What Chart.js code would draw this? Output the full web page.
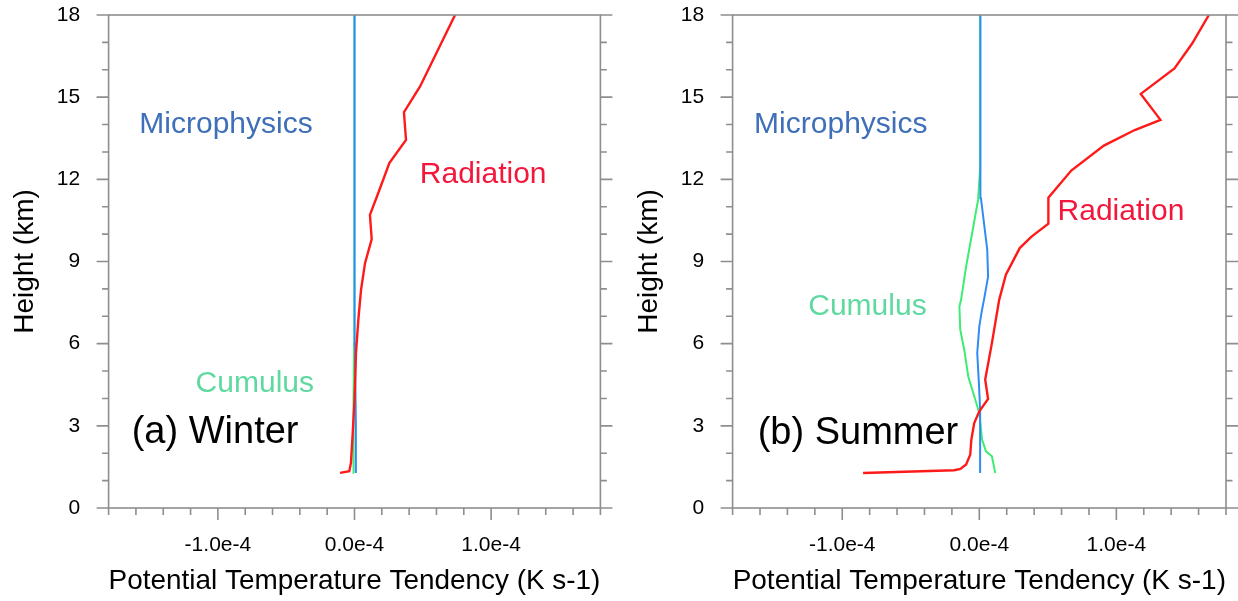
<!DOCTYPE html>
<html>
<head>
<meta charset="utf-8">
<script src="https://cdn.jsdelivr.net/npm/chart.js@4.4.0/dist/chart.umd.min.js"></script>
<style>
  body { margin: 0; background: #fff; }
  #wrap { position: relative; width: 1238px; height: 601px; }
  canvas { position: absolute; top: 0; }
</style>
</head>
<body>
<div id="wrap">
  <canvas id="winter" width="619" height="601" style="left:0"></canvas>
  <canvas id="summer" width="619" height="601" style="left:619px"></canvas>
</div>
<script>
// tendencies in units of 1e-4 K s-1, heights in km

// (a) winter
const winterRadHeights = [1.28, 1.34, 1.65, 2.74, 3.96, 5.66, 6.87, 7.97, 8.94, 9.82, 10.7, 11.5, 12.59, 13.44, 14.45, 15.38, 18];
const winterRadiation  = [-0.106, -0.038, -0.026, -0.013, 0.0, 0.011, 0.028, 0.048, 0.077, 0.126, 0.113, 0.174, 0.255, 0.377, 0.362, 0.479, 0.736];
const winterMicHeights = [1.28, 3.0, 6.0, 9.0, 18];
const winterMicro      = [0.01, 0.01, 0.003, 0.0, 0.0];
const winterCuHeights  = [1.28, 2.0, 4.0, 6.0, 8.0, 18];
const winterCumulus    = [-0.005, -0.008, -0.006, -0.003, 0.0, 0.0];

// (b) summer
const summerRadHeights = [1.28, 1.38, 1.43, 1.59, 1.95, 2.5, 3.1, 3.53, 3.98, 4.69, 6.02, 7.6, 8.52, 9.49, 9.91, 10.38, 11.33, 12.32, 13.23, 13.8, 14.17, 15.12, 16.05, 16.96, 18];
const summerRadiation  = [-0.848, -0.182, -0.138, -0.096, -0.066, -0.058, -0.037, 0.0, 0.064, 0.043, 0.092, 0.145, 0.194, 0.295, 0.381, 0.504, 0.504, 0.671, 0.909, 1.134, 1.322, 1.178, 1.424, 1.553, 1.675];
const summerMicHeights = [1.28, 3.59, 4.57, 5.66, 6.63, 7.24, 7.6, 8.45, 9.43, 11.31, 11.98, 13.07, 18];
const summerMicro      = [0.006, 0.006, -0.003, -0.015, 0.0, 0.02, 0.034, 0.064, 0.058, 0.012, 0.012, 0.006, 0.006];
const summerCuHeights  = [1.28, 1.52, 1.89, 2.07, 2.5, 3.47, 4.08, 4.81, 5.78, 6.51, 7.36, 7.6, 8.82, 10.04, 11.25, 12.4, 13.5, 18];
const summerCumulus    = [0.116, 0.107, 0.092, 0.049, 0.02, 0.0, -0.037, -0.081, -0.11, -0.139, -0.145, -0.133, -0.096, -0.052, -0.009, 0.006, 0.006, 0.006];

const xTicks = [-1, 0, 1];
const xTickLabels = ['-1.0e-4', '0.0e-4', '1.0e-4'];
const yTicks = [0, 3, 6, 9, 12, 15, 18];

const RED = '#ff1a1a', BLUE = '#2f8cf5', GREEN = '#3ded72', AXIS = '#8e8e8e';
const FONT = "'Liberation Sans', Arial, Helvetica, sans-serif";

Chart.defaults.font.family = FONT;
Chart.defaults.color = '#000';

function pts(hs, vs) {
  return vs.map((v, i) => ({ x: v, y: hs[i] }));
}

// frame, outward ticks (major + minor) and the in-plot labels
const framePlugin = {
  id: 'frame',
  afterDatasetsDraw(chart, args, opts) {
    const { ctx, chartArea: a, scales: { x, y } } = chart;
    ctx.save();
    ctx.strokeStyle = AXIS;
    ctx.lineWidth = 1.6;
    ctx.strokeRect(a.left, a.top, a.right - a.left, a.bottom - a.top);
    ctx.beginPath();
    for (let v = 0; v <= 18; v++) {
      const py = y.getPixelForValue(v);
      const len = v % 3 === 0 ? 12 : 6.5;
      ctx.moveTo(a.left - len, py); ctx.lineTo(a.left, py);
      ctx.moveTo(a.right, py); ctx.lineTo(a.right + len, py);
    }
    for (let i = -9; i <= 9; i++) {
      const px = x.getPixelForValue(i * 0.2);
      const len = i % 5 === 0 ? 12 : 7;
      ctx.moveTo(px, a.bottom); ctx.lineTo(px, a.bottom + len);
    }
    ctx.stroke();

    ctx.textAlign = 'left';
    ctx.textBaseline = 'alphabetic';
    opts.notes.forEach(n => {
      ctx.fillStyle = n.color;
      ctx.font = n.size + 'px ' + FONT;
      ctx.fillText(n.text, x.getPixelForValue(n.x), y.getPixelForValue(n.y));
    });
    ctx.restore();
  }
};

function makePanel(id, series, notes, box) {
  return new Chart(document.getElementById(id), {
    type: 'scatter',
    data: {
      datasets: [
        { label: 'Radiation', data: pts(series.rad[0], series.rad[1]), borderColor: RED, borderWidth: 2.4 },
        { label: 'Microphysics', data: pts(series.mic[0], series.mic[1]), borderColor: BLUE, borderWidth: 2 },
        { label: 'Cumulus', data: pts(series.cu[0], series.cu[1]), borderColor: GREEN, borderWidth: 2 }
      ].map(d => Object.assign(d, { showLine: true, pointRadius: 0, fill: false, tension: 0 }))
    },
    options: {
      responsive: false,
      animation: false,
      layout: { padding: { top: 15, right: box.right, left: 0, bottom: 0 } },
      plugins: {
        legend: { display: false },
        tooltip: { enabled: false },
        frame: { notes: notes }
      },
      scales: {
        // tick marks are drawn by the frame plugin; tickLength only spaces the labels
        x: {
          type: 'linear', min: -1.8, max: 1.8,
          grid: { display: false, drawTicks: true, tickLength: 25 },
          border: { display: false },
          afterBuildTicks: s => { s.ticks = xTicks.map(v => ({ value: v })); },
          afterFit: s => { s.height = 93; },
          ticks: { font: { size: 21 }, padding: 0, callback: (v, i) => xTickLabels[i] },
          title: { display: true, text: 'Potential Temperature Tendency (K s-1)', font: { size: 28 }, padding: { top: 0, bottom: 3 } }
        },
        y: {
          type: 'linear', min: 0, max: 18,
          grid: { display: false, drawTicks: true, tickLength: 28.5 },
          border: { display: false },
          afterBuildTicks: s => { s.ticks = yTicks.map(v => ({ value: v })); },
          afterFit: s => { s.width = box.yWidth; },
          ticks: { font: { size: 21 }, padding: 0, callback: v => String(v) },
          title: { display: true, text: 'Height (km)', font: { size: 28 }, padding: { top: box.titlePad, bottom: 0 } }
        }
      }
    },
    plugins: [framePlugin]
  });
}

makePanel('winter',
  { rad: [winterRadHeights, winterRadiation], mic: [winterMicHeights, winterMicro], cu: [winterCuHeights, winterCumulus] },
  [
    { text: 'Microphysics', x: -1.575, y: 13.68, color: '#3e6fb8', size: 30 },
    { text: 'Radiation', x: 0.478, y: 11.88, color: '#f2173b', size: 30 },
    { text: 'Cumulus', x: -1.163, y: 4.25, color: '#5fd9a0', size: 30 },
    { text: '(a) Winter', x: -1.631, y: 2.38, color: '#000', size: 38 }
  ],
  { yWidth: 108.6, titlePad: 8.2, right: 18.6 });

makePanel('summer',
  { rad: [summerRadHeights, summerRadiation], mic: [summerMicHeights, summerMicro], cu: [summerCuHeights, summerCumulus] },
  [
    { text: 'Microphysics', x: -1.643, y: 13.68, color: '#3e6fb8', size: 30 },
    { text: 'Radiation', x: 0.571, y: 10.51, color: '#f2173b', size: 30 },
    { text: 'Cumulus', x: -1.248, y: 7.05, color: '#5fd9a0', size: 30 },
    { text: '(b) Summer', x: -1.617, y: 2.33, color: '#000', size: 38 }
  ],
  { yWidth: 113.6, titlePad: 13.8, right: 12 });
</script>
</body>
</html>
